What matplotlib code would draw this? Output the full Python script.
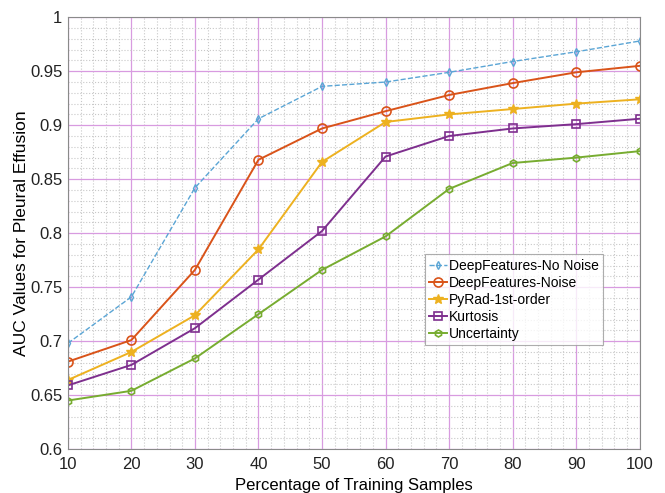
import matplotlib
matplotlib.use("Agg")
import matplotlib.pyplot as plt
from matplotlib.ticker import MultipleLocator, FuncFormatter

plt.rcParams['font.family'] = ['Liberation Sans', 'DejaVu Sans']

# Donnees
pourcentages = [10, 20, 30, 40, 50, 60, 70, 80, 90, 100]
deep_no_noise = [0.698, 0.741, 0.842, 0.906, 0.936, 0.940, 0.949, 0.959, 0.968, 0.978]
deep_noise = [0.681, 0.701, 0.766, 0.868, 0.897, 0.913, 0.928, 0.939, 0.949, 0.955]
pyrad = [0.664, 0.690, 0.724, 0.785, 0.866, 0.903, 0.910, 0.915, 0.920, 0.924]
kurtosis = [0.659, 0.678, 0.712, 0.757, 0.802, 0.871, 0.890, 0.897, 0.901, 0.906]
uncertainty = [0.645, 0.654, 0.684, 0.725, 0.766, 0.797, 0.841, 0.865, 0.870, 0.876]

fig = plt.figure(figsize=(6.65, 4.93), dpi=100)
ax = fig.add_axes([0.102, 0.089, 0.860, 0.876])

ax.plot(pourcentages, deep_no_noise, '--', color='#5aa5d5', lw=1.0, marker='d',
        ms=4, mfc='none', mew=1.0, label='DeepFeatures-No Noise')
ax.plot(pourcentages, deep_noise, '-', color='#D95319', lw=1.4, marker='o',
        ms=6.5, mfc='none', mew=1.2, label='DeepFeatures-Noise')
ax.plot(pourcentages, pyrad, '-', color='#EDB120', lw=1.4, marker='*',
        ms=7, label='PyRad-1st-order')
ax.plot(pourcentages, kurtosis, '-', color='#7E2F8E', lw=1.4, marker='s',
        ms=5.5, mfc='none', mew=1.2, label='Kurtosis')
ax.plot(pourcentages, uncertainty, '-', color='#77AC30', lw=1.4, marker='h',
        ms=5, mfc='none', mew=1.2, label='Uncertainty')

ax.set_xlim(10, 100)
ax.set_ylim(0.6, 1.0)
ax.xaxis.set_major_locator(MultipleLocator(10))
ax.xaxis.set_minor_locator(MultipleLocator(2))
ax.yaxis.set_major_locator(MultipleLocator(0.05))
ax.yaxis.set_minor_locator(MultipleLocator(0.01))
ax.yaxis.set_major_formatter(FuncFormatter(lambda v, p: f'{v:g}'))

ax.grid(True, which='minor', color='#c8c8c8', ls=':', lw=0.8)
ax.grid(True, which='major', color='#d89be0', ls='-', lw=0.9)
ax.set_axisbelow(True)

for s in ax.spines.values():
    s.set_color('#8a8a8a')
    s.set_linewidth(0.8)
ax.tick_params(which='both', length=0, labelsize=12, colors='#222222')
ax.tick_params(axis='x', pad=6)
ax.tick_params(axis='y', pad=4)

ax.set_xlabel('Percentage of Training Samples', fontsize=12, labelpad=4)
ax.set_ylabel('AUC Values for Pleural Effusion', fontsize=12.5, labelpad=1)

leg = ax.legend(loc='lower left', bbox_to_anchor=(0.624, 0.241), fontsize=10,
                frameon=True, fancybox=False, borderpad=0.3, labelspacing=0.22,
                handlelength=1.3, handletextpad=0.15, borderaxespad=0)
leg.get_frame().set_edgecolor('#999999')
leg.get_frame().set_linewidth(0.8)

plt.savefig('out.png', dpi=100)
